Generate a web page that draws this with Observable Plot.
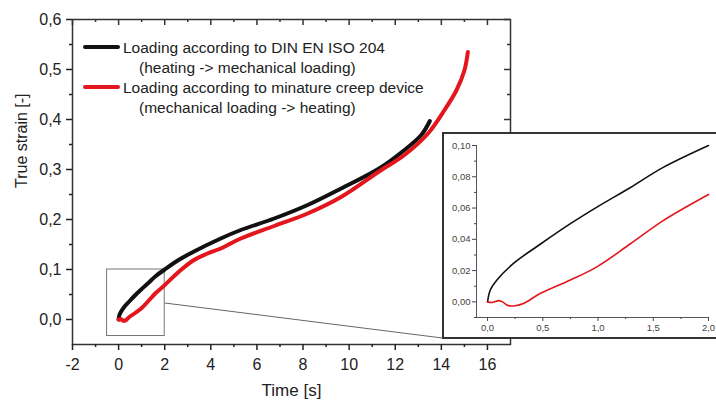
<!DOCTYPE html>
<html>
<head>
<meta charset="utf-8">
<script src="https://cdn.jsdelivr.net/npm/d3@7"></script>
<script src="https://cdn.jsdelivr.net/npm/@observablehq/plot@0.6"></script>
<style>
  html, body { margin: 0; padding: 0; background: #fff; }
  #wrap { position: relative; width: 716px; height: 401px; overflow: hidden; background: #fff;
          font-family: "Liberation Sans", Arial, sans-serif; color: #222; }
  #main { position: absolute; left: 0; top: 0; }
  #inset { position: absolute; left: 442px; top: 132px; width: 274px; height: 207px; box-sizing: border-box;
           border: 2px solid #333; border-right: none; background: #fff; overflow: hidden; }
  #inset svg, #main svg { max-width: none !important; display: block; }
  .leg { position: absolute; font-size: 15.5px; line-height: 20px; white-space: nowrap; color: #222; }
  .sw { position: absolute; height: 4px; border-radius: 2px; }
</style>
</head>
<body>
<div id="wrap">
  <div id="main"></div>
  <div id="inset"></div>
</div>
<script>
// ---------- data ----------
const seriesNames = ["Loading according to DIN EN ISO 204", "Loading according to minature creep device"];
const seriesNotes = ["(heating -> mechanical loading)", "(mechanical loading -> heating)"];
const seriesColors = ["#111111", "#e3161d"];

const blackT = [0, 0.025, 0.085, 0.235, 0.48, 0.75, 0.99, 1.29, 1.59, 2.0, 2.6, 3.27, 4.43, 5.3, 6.75, 8.2, 9.65, 11.3, 12.4, 13.13, 13.5];
const blackS = [0, 0.0076, 0.014, 0.0246, 0.037, 0.05, 0.0606, 0.073, 0.086, 0.1, 0.119, 0.136, 0.162, 0.179, 0.202, 0.229, 0.262, 0.302, 0.339, 0.369, 0.397];

const redT = [0, 0.04, 0.1, 0.13, 0.19, 0.25, 0.33, 0.48, 0.75, 0.99, 1.29, 1.59, 2.0, 2.6, 3.27, 3.8, 4.43, 5.3, 6.75, 8.2, 9.65, 11.3, 12.4, 13.42, 14.14, 14.65, 15.0, 15.15];
const redS = [0, -0.0004, 0.0008, 0.0002, -0.0024, -0.0025, -0.0009, 0.0055, 0.014, 0.0224, 0.037, 0.052, 0.0687, 0.095, 0.119, 0.131, 0.142, 0.162, 0.187, 0.212, 0.245, 0.296, 0.329, 0.372, 0.419, 0.458, 0.498, 0.535];

const xMajor = [-2, 0, 2, 4, 6, 8, 10, 12, 14, 16];
const xMinor = [-1, 1, 3, 5, 7, 9, 11, 13, 15];
const yMajor = [0, 0.1, 0.2, 0.3, 0.4, 0.5, 0.6];
const yMinor = [0.05, 0.15, 0.25, 0.35, 0.45, 0.55];

const insetXMajor = [0, 0.5, 1.0, 1.5, 2.0];
const insetXMinor = [0.25, 0.75, 1.25, 1.75];
const insetYMajor = [0, 0.02, 0.04, 0.06, 0.08, 0.10];
const insetYMinor = [-0.01, 0.01, 0.03, 0.05, 0.07, 0.09];

const zoomBox = [{x1: -0.5, x2: 2, y1: -0.033, y2: 0.1}];
const zoomLink = [{x1: 2, y1: 0.033, x2: 14.13, y2: -0.0375}];

// ---------- build ----------
const black = blackT.map((t, i) => ({t, s: blackS[i]}));
const red = redT.map((t, i) => ({t, s: redS[i]}));
const comma = (k) => (d) => d.toFixed(k).replace(".", ",");
const empty = () => "";
const font = "'Liberation Sans', Arial, sans-serif";

const main = Plot.plot({
  width: 716, height: 401,
  marginLeft: 72, marginRight: 206, marginTop: 19, marginBottom: 57,
  x: {domain: [-2, 17]},
  y: {domain: [-0.05, 0.6]},
  style: {fontFamily: font, fontSize: "16px", color: "#222", background: "transparent"},
  marks: [
    Plot.frame({stroke: "#333", strokeWidth: 1.5}),
    Plot.axisY(yMajor, {anchor: "left", tickSize: 6, tickPadding: 5, tickFormat: comma(1), label: null, strokeWidth: 1.5}),
    Plot.axisY(yMinor, {anchor: "left", tickSize: 3, tickFormat: empty, label: null, strokeWidth: 1.5}),
    Plot.axisX(xMajor, {anchor: "bottom", tickSize: 6, tickPadding: 8, tickFormat: (d) => String(d), label: null, strokeWidth: 1.5}),
    Plot.axisX(xMinor, {anchor: "bottom", tickSize: 3, tickFormat: empty, label: null, strokeWidth: 1.5}),
    Plot.ruleX(xMajor, {insetBottom: 325 - 6, stroke: "#333", strokeWidth: 1.5}),
    Plot.ruleX(xMinor, {insetBottom: 325 - 3, stroke: "#333", strokeWidth: 1.5}),
    Plot.ruleY(yMajor, {insetLeft: 438 - 6, stroke: "#333", strokeWidth: 1.5}),
    Plot.ruleY(yMinor, {insetLeft: 438 - 3, stroke: "#333", strokeWidth: 1.5}),
    Plot.text(["Time [s]"], {frameAnchor: "bottom", dy: 46, lineAnchor: "middle", fontSize: 17, fill: "#222"}),
    Plot.text(["True strain [-]"], {frameAnchor: "left", dx: -51, dy: 6, rotate: -90, lineAnchor: "middle", fontSize: 16, fill: "#222"}),
    Plot.rect(zoomBox, {x1: "x1", x2: "x2", y1: "y1", y2: "y2", stroke: "#777", fill: "none", strokeWidth: 1}),
    Plot.link(zoomLink, {x1: "x1", y1: "y1", x2: "x2", y2: "y2", stroke: "#666", strokeWidth: 1}),
    Plot.line(black, {x: "t", y: "s", stroke: seriesColors[0], strokeWidth: 4, curve: "catmull-rom"}),
    Plot.line(red, {x: "t", y: "s", stroke: seriesColors[1], strokeWidth: 4, curve: "catmull-rom"})
  ]
});
document.getElementById("main").appendChild(main);

const inset = Plot.plot({
  width: 290, height: 203,
  marginLeft: 32, marginRight: 26, marginTop: 11, marginBottom: 20,
  x: {domain: [-0.1, 2.0]},
  y: {domain: [-0.01, 0.10]},
  style: {fontFamily: font, fontSize: "9.5px", color: "#444", background: "#fff", maxWidth: "none"},
  marks: [
    Plot.ruleX([-0.1], {stroke: "#555", strokeWidth: 1}),
    Plot.ruleY([-0.01], {stroke: "#555", strokeWidth: 1}),
    Plot.axisY(insetYMajor, {anchor: "left", tickSize: 4, tickPadding: 2, tickFormat: comma(2), label: null}),
    Plot.axisY(insetYMinor, {anchor: "left", tickSize: 2, tickFormat: empty, label: null}),
    Plot.axisX(insetXMajor, {anchor: "bottom", tickSize: 4, tickPadding: 3, tickFormat: comma(1), label: null}),
    Plot.axisX(insetXMinor, {anchor: "bottom", tickSize: 2, tickFormat: empty, label: null}),
    Plot.line(black.filter(d => d.t <= 2), {x: "t", y: "s", stroke: seriesColors[0], strokeWidth: 1.6, curve: "catmull-rom"}),
    Plot.line(red.filter(d => d.t <= 2), {x: "t", y: "s", stroke: seriesColors[1], strokeWidth: 1.6, curve: "catmull-rom"})
  ]
});
document.getElementById("inset").appendChild(inset);

// legend
const wrap = document.getElementById("wrap");
const legRows = [47, 87];
seriesNames.forEach((name, i) => {
  const sw = document.createElement("div");
  sw.className = "sw";
  sw.style.left = "83px"; sw.style.width = "37px"; sw.style.top = (legRows[i] - 2) + "px";
  sw.style.background = seriesColors[i];
  wrap.appendChild(sw);
  const t1 = document.createElement("div");
  t1.className = "leg"; t1.textContent = name;
  t1.style.left = "123px"; t1.style.top = (legRows[i] - 9) + "px";
  wrap.appendChild(t1);
  const t2 = document.createElement("div");
  t2.className = "leg"; t2.textContent = seriesNotes[i];
  t2.style.left = "139px"; t2.style.top = (legRows[i] + 11) + "px";
  wrap.appendChild(t2);
});
</script>
</body>
</html>
